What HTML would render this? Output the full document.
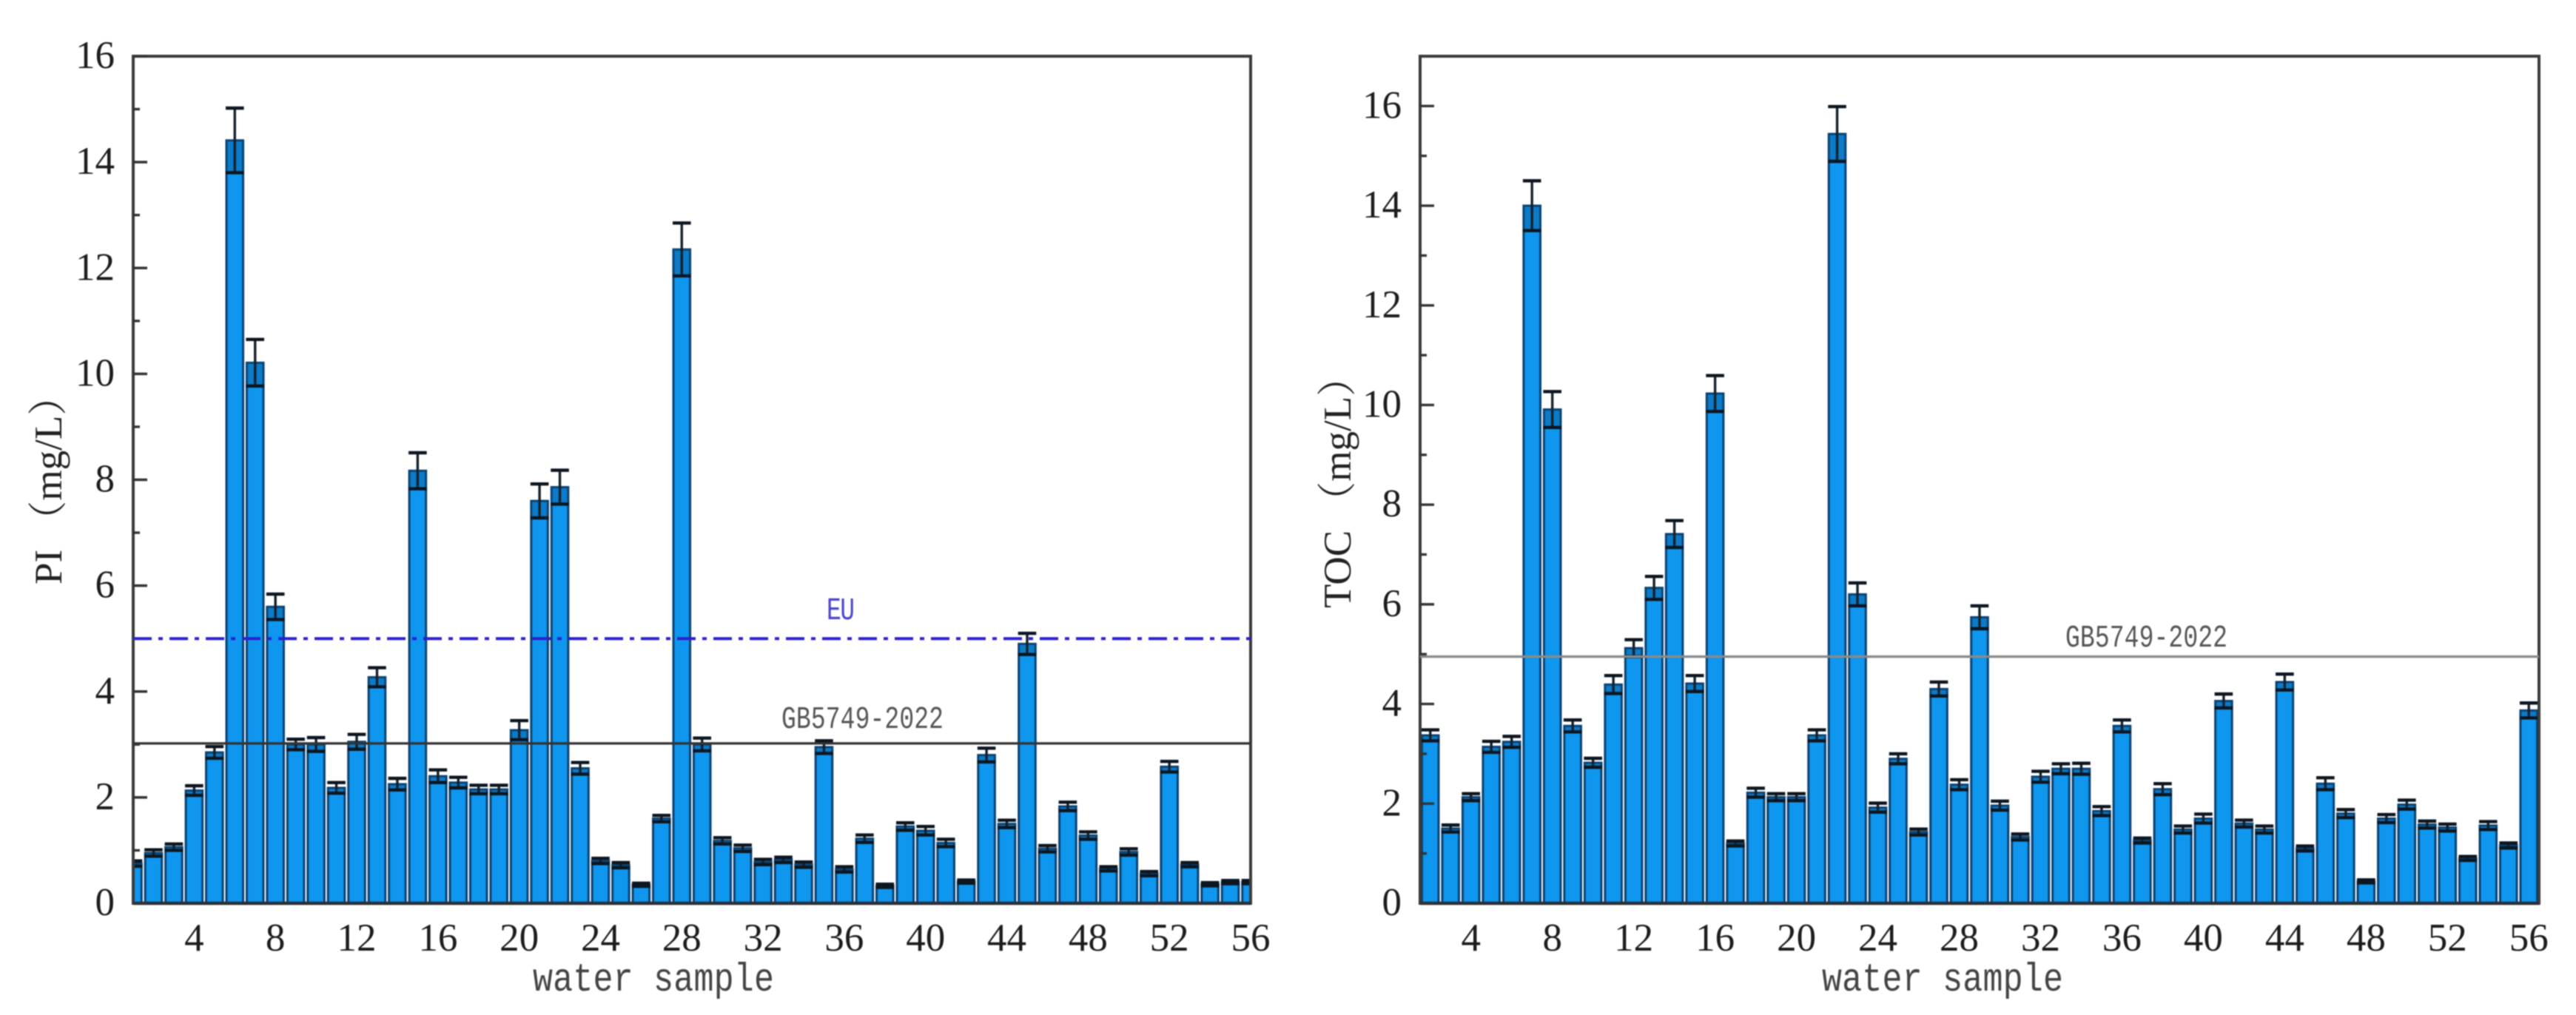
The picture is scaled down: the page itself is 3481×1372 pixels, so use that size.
<!DOCTYPE html>
<html lang="en">
<head>
<meta charset="utf-8">
<title>PI and TOC by water sample</title>
<style>
html,body{margin:0;padding:0;background:#fff;width:3481px;height:1372px;overflow:hidden}
svg{display:block;filter:blur(0.9px)}
.tick{font-family:"Liberation Serif",serif;font-size:53px;fill:#1c1c1c}
.ytitle{font-family:"Liberation Serif","Noto Serif CJK SC",serif;font-size:53px;fill:#222}
.xtitle{font-family:"Liberation Mono",monospace;font-size:45px;fill:#444}
.note{font-family:"Liberation Mono",monospace;font-size:33px}
</style>
</head>
<body>
<svg id="figure" xmlns="http://www.w3.org/2000/svg" width="3481" height="1372" viewBox="0 0 3481 1372">
  <rect width="3481" height="1372" fill="#fff"/>
  <g id="pi-chart"></g>
  <g id="toc-chart"></g>

  <text class="ytitle" transform="translate(83,790) rotate(-90)" xml:space="preserve">PI （mg/L）</text>
  <text class="ytitle" transform="translate(1825,822) rotate(-90)" xml:space="preserve">TOC （mg/L）</text>

  <text class="xtitle" transform="translate(720,1339) scale(1,1.2)" textLength="326" lengthAdjust="spacing">water sample</text>
  <text class="xtitle" transform="translate(2462,1339) scale(1,1.2)" textLength="326" lengthAdjust="spacing">water sample</text>

  <text class="note" transform="translate(1117,837) scale(1,1.3)" textLength="38" fill="#4a45c8">EU</text>
  <text class="note" transform="translate(1056,984) scale(1,1.3)" textLength="219" fill="#555">GB5749-2022</text>
  <text class="note" transform="translate(2791,874) scale(1,1.3)" textLength="219" fill="#555">GB5749-2022</text>
</svg>
<script>
var xTickLabels = [4, 8, 12, 16, 20, 24, 28, 32, 36, 40, 44, 48, 52, 56];
var piYTickLabels = [0, 2, 4, 6, 8, 10, 12, 14, 16];
var tocYTickLabels = [0, 2, 4, 6, 8, 10, 12, 14, 16];

var piFirstSample = 1;
var piValues = [0.75,0.95,1.06,2.13,2.85,14.41,10.21,5.6,3.0,3.0,2.18,3.05,4.27,2.25,8.17,2.4,2.28,2.15,2.15,3.27,7.6,7.86,2.55,0.8,0.72,0.35,1.6,12.35,3.0,1.18,1.04,0.78,0.82,0.73,2.95,0.64,1.22,0.33,1.45,1.37,1.14,0.41,2.8,1.5,4.9,1.03,1.83,1.28,0.65,0.97,0.56,2.58,0.73,0.36,0.4,0.4];
var piErrors = [0.05,0.06,0.06,0.09,0.11,0.61,0.44,0.24,0.1,0.13,0.1,0.14,0.18,0.11,0.34,0.12,0.1,0.08,0.08,0.18,0.32,0.32,0.11,0.05,0.05,0.03,0.06,0.5,0.12,0.06,0.06,0.05,0.05,0.05,0.12,0.05,0.07,0.03,0.07,0.08,0.07,0.03,0.13,0.07,0.2,0.06,0.08,0.07,0.04,0.06,0.04,0.1,0.04,0.03,0.03,0.03];

var tocFirstSample = 2;
var tocValues = [3.37,1.5,2.13,3.14,3.24,14.0,9.91,3.56,2.82,4.39,5.12,6.33,7.41,4.41,10.23,1.2,2.22,2.13,2.13,3.37,15.44,6.2,1.92,2.9,1.43,4.3,2.38,5.74,1.96,1.33,2.54,2.7,2.7,1.85,3.56,1.26,2.29,1.48,1.7,4.06,1.6,1.48,4.44,1.1,2.4,1.8,0.44,1.7,1.98,1.58,1.52,0.9,1.56,1.16,3.87];
var tocErrors = [0.11,0.07,0.07,0.11,0.11,0.5,0.36,0.12,0.09,0.18,0.17,0.23,0.27,0.16,0.36,0.05,0.09,0.07,0.07,0.11,0.55,0.23,0.09,0.1,0.06,0.14,0.1,0.23,0.09,0.06,0.11,0.1,0.11,0.09,0.12,0.05,0.11,0.07,0.09,0.14,0.07,0.07,0.16,0.05,0.12,0.08,0.03,0.08,0.09,0.07,0.07,0.04,0.08,0.05,0.15];

var piLimitGB = 3.02;
var piLimitEU = 5;
var tocLimitGB = 4.95;

var SVG_NS = 'http://www.w3.org/2000/svg';

function make(parent, tag, attrs) {
  var el = document.createElementNS(SVG_NS, tag);
  for (var k in attrs) { el.setAttribute(k, attrs[k]); }
  parent.appendChild(el);
  return el;
}

function drawChart(host, prefix, box, xDomain, yMax, firstSample, values, errors, yTickLabels) {
  function xScale(s) { return box.left + (s - xDomain[0]) * (box.right - box.left) / (xDomain[1] - xDomain[0]); }
  function yScale(v) { return box.bottom - v * (box.bottom - box.top) / yMax; }

  var clip = make(host, 'clipPath', { id: prefix + '-clip' });
  make(clip, 'rect', { x: box.left, y: box.top, width: box.right - box.left, height: box.bottom - box.top });

  var plot = make(host, 'g', { 'clip-path': 'url(#' + prefix + '-clip)' });
  
  

  values.forEach(function (v, i) {
    var s = firstSample + i;
    var e = errors[i];
    var cx = xScale(s);
    var half = 11.3;

    var bar = make(plot, 'rect', { x: cx - half, y: yScale(v), width: half * 2, height: yScale(0) - yScale(v), fill: '#0f96ee', stroke: '#0a4272', 'stroke-width': 3 });
    
    

    var shade = make(plot, 'rect', { x: cx - half, y: yScale(v), width: half * 2, height: yScale(v - e) - yScale(v), fill: '#0a4a80', opacity: 0.35 });
    
    

    var err = make(plot, 'path', {
      d: 'M' + cx + ' ' + yScale(v + e) + 'V' + yScale(v - e),
      fill: 'none', stroke: '#14202c', 'stroke-width': 3.4
    });
    
    

    var caps = make(plot, 'path', {
      d: 'M' + (cx - half - 1) + ' ' + yScale(v + e) + 'H' + (cx + half + 1) +
         'M' + (cx - half - 1) + ' ' + yScale(v - e) + 'H' + (cx + half + 1),
      fill: 'none', stroke: '#0c1620', 'stroke-width': 4.4
    });
    
    
  });

  var frame = make(host, 'rect', { x: box.left, y: box.top, width: box.right - box.left, height: box.bottom - box.top, fill: 'none', stroke: '#3a3a3a', 'stroke-width': 4 });
  
  

  var baseLine = make(host, 'line', { x1: box.left, x2: box.right, y1: box.bottom, y2: box.bottom, stroke: '#2a3038', 'stroke-width': 4.4 });
  
  

  for (var m = 1; m < yMax; m += 2) {
    var minor = make(host, 'line', { x1: box.left, x2: box.left + 9, y1: yScale(m), y2: yScale(m), stroke: '#333', 'stroke-width': 3.4 });
    
    
  }

  yTickLabels.forEach(function (t) {
    var major = make(host, 'line', { x1: box.left, x2: box.left + 19, y1: yScale(t), y2: yScale(t), stroke: '#333', 'stroke-width': 3.4 });
    
    

    var label = make(host, 'text', { x: box.left - 25, y: yScale(t) + 16, 'text-anchor': 'end', 'class': 'tick' });
    
    
    label.textContent = t;
  });

  xTickLabels.forEach(function (t) {
    var label = make(host, 'text', { x: xScale(t), y: 1285, 'text-anchor': 'middle', 'class': 'tick' });
    
    
    label.textContent = t;
  });

  return yScale;
}

var piHost = document.getElementById('pi-chart');
var piY = drawChart(piHost, 'pi', { left: 180, right: 1690, top: 76, bottom: 1221 }, [1, 56], 16, piFirstSample, piValues, piErrors, piYTickLabels);

var piGbLine = make(piHost, 'line', { x1: 180, x2: 1690, y1: piY(piLimitGB), y2: piY(piLimitGB), stroke: '#333', 'stroke-width': 3.2 });



var piEuLine = make(piHost, 'line', { x1: 180, x2: 1695, y1: piY(piLimitEU), y2: piY(piLimitEU), stroke: '#2b1fd0', 'stroke-width': 4, 'stroke-dasharray': '25 9 6 9' });



var tocHost = document.getElementById('toc-chart');
var tocY = drawChart(tocHost, 'toc', { left: 1919, right: 3431, top: 76, bottom: 1221 }, [1.5, 56.5], 17, tocFirstSample, tocValues, tocErrors, tocYTickLabels);

var tocGbLine = make(tocHost, 'line', { x1: 1919, x2: 3431, y1: tocY(tocLimitGB), y2: tocY(tocLimitGB), stroke: '#8a8a8a', 'stroke-width': 3.4 });


</script>
</body>
</html>
